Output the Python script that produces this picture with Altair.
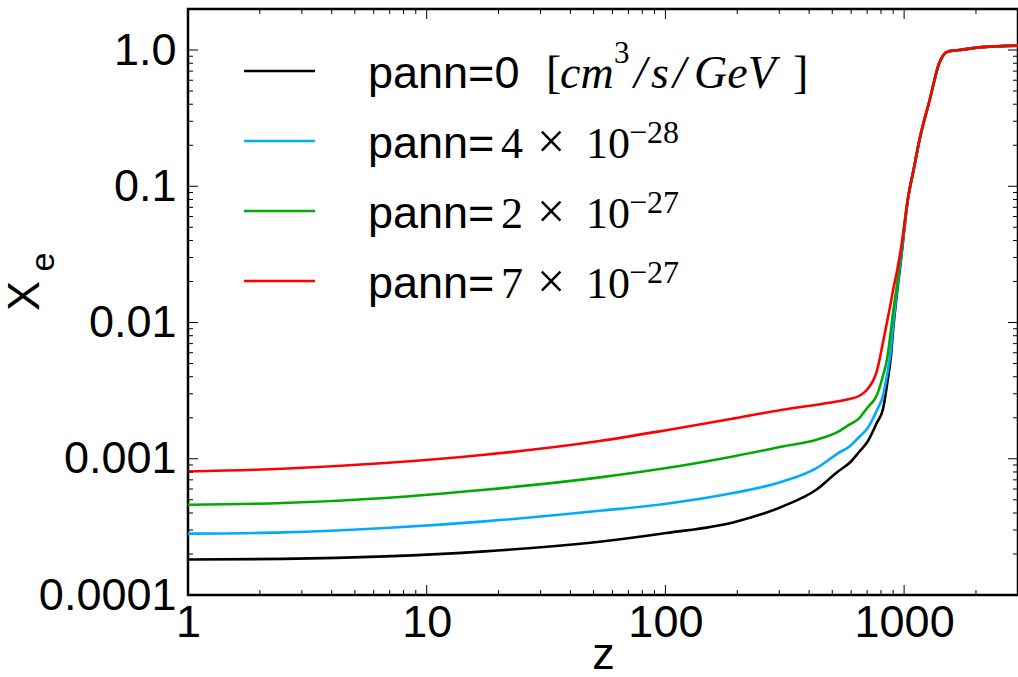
import altair as alt
import pandas as pd

# ---------------- data ----------------
z = [1, 2.5, 6.7, 17.5, 53, 101, 192, 310, 430, 530, 590, 650, 700, 770, 815,
     850, 880, 900, 930, 975, 1035, 1100, 1160, 1280, 1400, 1520, 1700, 2130, 3000]
xe_pann0 = [1.82e-4, 1.84e-4, 1.92e-4, 2.09e-4, 2.46e-4, 2.85e-4, 3.41e-4, 4.47e-4, 5.95e-4,
            8.1e-4, 9.3e-4, 1.13e-3, 1.32e-3, 1.85e-3, 2.3e-3, 3.6e-3, 5.6e-3, 8.9e-3,
            1.55e-2, 3.1e-2, 7.8e-2, 0.136, 0.219, 0.43, 0.79, 0.973, 1.0, 1.05, 1.077]
xe_pann4e28 = [2.82e-4, 2.88e-4, 3.10e-4, 3.47e-4, 4.15e-4, 4.68e-4, 5.6e-4, 6.81e-4, 8.55e-4,
               1.10e-3, 1.23e-3, 1.45e-3, 1.66e-3, 2.28e-3, 2.9e-3, 4.2e-3, 6.3e-3, 9.6e-3,
               1.65e-2, 3.2e-2, 7.85e-2, 0.136, 0.219, 0.43, 0.79, 0.973, 1.0, 1.05, 1.077]
xe_pann2e27 = [4.60e-4, 4.73e-4, 5.15e-4, 5.92e-4, 7.3e-4, 8.55e-4, 1.04e-3, 1.23e-3, 1.38e-3,
               1.58e-3, 1.78e-3, 1.99e-3, 2.36e-3, 2.95e-3, 4.05e-3, 5.5e-3, 8.7e-3, 1.2e-2,
               1.8e-2, 3.4e-2, 7.9e-2, 0.136, 0.219, 0.43, 0.79, 0.973, 1.0, 1.05, 1.077]
xe_pann7e27 = [8.07e-4, 8.45e-4, 9.3e-4, 1.07e-3, 1.35e-3, 1.62e-3, 1.97e-3, 2.29e-3, 2.49e-3,
               2.64e-3, 2.74e-3, 2.9e-3, 3.22e-3, 4.45e-3, 7.1e-3, 1.03e-2, 1.4e-2, 1.75e-2,
               2.3e-2, 3.7e-2, 7.94e-2, 0.137, 0.22, 0.43, 0.80, 0.973, 1.0, 1.05, 1.077]

series_cols = ["pann0", "pann4e28", "pann2e27", "pann7e27"]
series_colors = ["#000000", "#00aaff", "#00aa00", "#ff0000"]

x_tick_values = [1, 10, 100, 1000]
y_tick_values = [0.0001, 0.001, 0.01, 0.1, 1.0]

legend_prefix = ["pann=0", "pann=", "pann=", "pann="]
legend_unit = ["[", "cm", "3", "/", "s", "/", "GeV", "]"]
legend_coef = ["4", "2", "7"]
legend_times = "×"
legend_base = "10"
legend_exp = ["−28", "−27", "−27"]

x_title = "z"
y_title_main = "X"
y_title_sub = "e"

# ---------------- layout ----------------
W, H = 830, 586
PAD = {"left": 188, "top": 9, "right": 0, "bottom": 82}
SANS = "Liberation Sans"
SERIF = "Liberation Serif"

x_minor = [k * 10 ** d for d in range(0, 4) for k in range(2, 10) if k * 10 ** d <= 3000]
y_minor = [k * 10.0 ** d for d in range(-4, 1) for k in range(2, 10) if k * 10.0 ** d <= 2]

xs = alt.Scale(type="log", domain=[1, 3000], nice=False)
ys = alt.Scale(type="log", domain=[1e-4, 2], nice=False)

x_axis = alt.Axis(values=x_tick_values, format="d", title=x_title, ticks=False, domain=False,
                  grid=False, labelFont=SANS, labelFontSize=45, labelColor="black",
                  labelPadding=5, labelFlush=False, labelOverlap=False,
                  titleFont=SANS, titleFontSize=45, titleFontWeight="normal",
                  titleColor="black", titlePadding=-13)
y_axis = alt.Axis(values=y_tick_values,
                  labelExpr="datum.value >= 0.99 ? '1.0' : toString(datum.value)",
                  title=None, ticks=False, domain=False, grid=False, labelFont=SANS,
                  labelFontSize=45, labelColor="black", labelPadding=12,
                  labelFlush=False, labelOverlap=False)

df = pd.DataFrame({"z": z, "pann0": xe_pann0, "pann4e28": xe_pann4e28,
                   "pann2e27": xe_pann2e27, "pann7e27": xe_pann7e27})

layers = []
for col, color in zip(series_cols, series_colors):
    layers.append(
        alt.Chart(df).mark_line(color=color, strokeWidth=2.6, interpolate="monotone").encode(
            x=alt.X("z:Q", scale=xs, axis=x_axis, title=x_title),
            y=alt.Y(f"{col}:Q", scale=ys, axis=y_axis, title=None),
        )
    )

# inward ticks on all four sides
def xticks(vals, length):
    d = pd.DataFrame({"z": vals})
    bottom = alt.Chart(d).mark_rule(color="black", strokeWidth=1).encode(
        x=alt.X("z:Q", scale=xs, axis=x_axis, title=x_title), y=alt.value(H), y2=alt.value(H - length))
    top = alt.Chart(d).mark_rule(color="black", strokeWidth=1).encode(
        x=alt.X("z:Q", scale=xs, axis=x_axis, title=x_title), y=alt.value(0), y2=alt.value(length))
    return [bottom, top]

def yticks(vals, length):
    d = pd.DataFrame({"v": vals})
    left = alt.Chart(d).mark_rule(color="black", strokeWidth=1).encode(
        y=alt.Y("v:Q", scale=ys, axis=y_axis, title=None), x=alt.value(0), x2=alt.value(length))
    right = alt.Chart(d).mark_rule(color="black", strokeWidth=1).encode(
        y=alt.Y("v:Q", scale=ys, axis=y_axis, title=None), x=alt.value(W), x2=alt.value(W - length))
    return [left, right]

layers += xticks(x_tick_values, 10) + xticks(x_minor, 5)
layers += yticks(y_tick_values, 10) + yticks(y_minor, 5)


def txt(s, x, y, size, font=SANS, style="normal", align="left", baseline="alphabetic", angle=0):
    return alt.Chart(pd.DataFrame({"t": [s]})).mark_text(
        align=align, baseline=baseline, font=font, fontSize=size, fontStyle=style,
        angle=angle, color="black").encode(text="t:N", x=alt.value(x), y=alt.value(y))


# y title X_e
layers.append(txt(y_title_main, -163, 287, 45, align="center", baseline="middle", angle=270))
layers.append(txt(y_title_sub, -144, 253, 34, align="center", baseline="middle", angle=270))

# custom legend
row_y = [62, 132, 202, 272]
for i, (ry, color) in enumerate(zip(row_y, series_colors)):
    layers.append(
        alt.Chart(pd.DataFrame({"k": [0]})).mark_rule(color=color, strokeWidth=2.6).encode(
            x=alt.value(56), x2=alt.value(127), y=alt.value(ry))
    )
    layers.append(txt(legend_prefix[i], 180, ry + 17, 45))

# row 1 units
unit_x = [358, 372, 426, 446, 463, 485, 506, 605]
unit_style = ["normal", "italic", "normal", "italic", "italic", "italic", "italic", "normal"]
for s, ux, st in zip(legend_unit, unit_x, unit_style):
    if s == "3":
        layers.append(txt(s, ux, row_y[0] - 8, 31, font=SERIF))
    else:
        layers.append(txt(s, ux, row_y[0] + 17, 46, font=SERIF, style=st))

# rows 2-4 values
for i in range(3):
    ry = row_y[i + 1]
    layers.append(txt(legend_coef[i], 313, ry + 17, 44, font=SERIF))
    layers.append(txt(legend_times, 349, ry + 17, 50, font=SERIF))
    layers.append(txt(legend_base, 398, ry + 17, 44, font=SERIF))
    layers.append(txt(legend_exp[i], 441, ry + 2, 32, font=SERIF))

chart = alt.layer(*layers).properties(
    width=W, height=H,
    autosize=alt.AutoSizeParams(type="none"),
    padding=PAD,
).configure_view(stroke="black", strokeWidth=2.5)

chart.save("out.html", embed_options={"renderer": "svg", "actions": False})
